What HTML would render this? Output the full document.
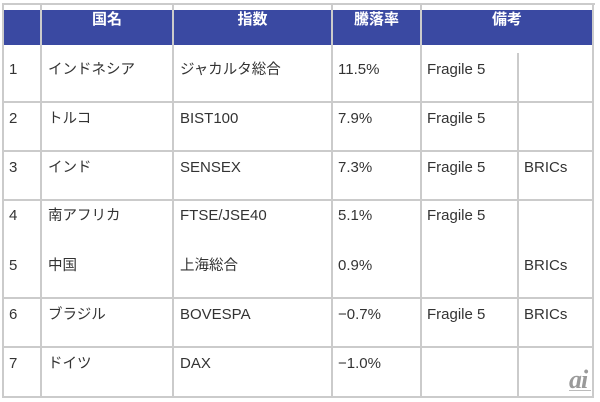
<!DOCTYPE html>
<html><head><meta charset="utf-8">
<style>
html,body{margin:0;padding:0;background:#fff;}
body{width:600px;height:402px;position:relative;overflow:hidden;font-family:"Liberation Sans","Noto Sans CJK JP",sans-serif;}
.hd{position:absolute;left:3px;top:10px;width:590px;height:35px;background:#3a49a2;}
.v{position:absolute;width:2px;background:#cbcbcb;}
.h{position:absolute;height:2px;background:#cbcbcb;}
.t{position:absolute;font-size:15px;line-height:20px;color:#333;white-space:nowrap;}
.j{font-size:14.5px;}
.th{position:absolute;font-size:15px;line-height:20px;color:#fff;font-weight:bold;text-align:center;top:10px;}
.ai{position:absolute;left:569px;top:369px;font-family:"Liberation Serif",serif;font-style:italic;font-weight:bold;font-size:26px;color:#9a9a9a;line-height:22px;letter-spacing:-1px;}
.ais{position:absolute;left:569px;top:390px;width:22px;height:1px;background:#bbb;}
</style></head><body>
<div class="hd"></div>
<!-- borders -->
<div class="h" style="left:3px;top:3px;width:592px;"></div>
<div class="v" style="left:2px;top:3px;height:395px;"></div>
<div class="v" style="left:40px;top:3px;height:395px;"></div>
<div class="v" style="left:172px;top:3px;height:395px;"></div>
<div class="v" style="left:331px;top:3px;height:395px;"></div>
<div class="v" style="left:420px;top:3px;height:395px;"></div>
<div class="v" style="left:517px;top:53px;height:345px;"></div>
<div class="v" style="left:592px;top:3px;height:395px;"></div>
<div class="h" style="left:3px;top:101px;width:591px;"></div>
<div class="h" style="left:3px;top:150px;width:591px;"></div>
<div class="h" style="left:3px;top:199px;width:591px;"></div>
<div class="h" style="left:3px;top:297px;width:591px;"></div>
<div class="h" style="left:3px;top:346px;width:591px;"></div>
<div class="h" style="left:3px;top:396px;width:591px;"></div>
<!-- header -->
<div class="th" style="left:42px;width:130px;">国名</div>
<div class="th" style="left:174px;width:157px;">指数</div>
<div class="th" style="left:333px;width:87px;">騰落率</div>
<div class="th" style="left:422px;width:170px;">備考</div>
<!-- row1 -->
<div class="t" style="left:9px;top:60px;">1</div>
<div class="t j" style="left:48px;top:60px;">インドネシア</div>
<div class="t j" style="left:180px;top:60px;">ジャカルタ総合</div>
<div class="t" style="left:338px;top:60px;">11.5%</div>
<div class="t" style="left:427px;top:60px;">Fragile 5</div>
<!-- row2 -->
<div class="t" style="left:9px;top:109px;">2</div>
<div class="t j" style="left:48px;top:109px;">トルコ</div>
<div class="t" style="left:180px;top:109px;">BIST100</div>
<div class="t" style="left:338px;top:109px;">7.9%</div>
<div class="t" style="left:427px;top:109px;">Fragile 5</div>
<!-- row3 -->
<div class="t" style="left:9px;top:158px;">3</div>
<div class="t j" style="left:48px;top:158px;">インド</div>
<div class="t" style="left:180px;top:158px;">SENSEX</div>
<div class="t" style="left:338px;top:158px;">7.3%</div>
<div class="t" style="left:427px;top:158px;">Fragile 5</div>
<div class="t" style="left:524px;top:158px;">BRICs</div>
<!-- row4 -->
<div class="t" style="left:9px;top:206px;">4</div>
<div class="t j" style="left:48px;top:206px;">南アフリカ</div>
<div class="t" style="left:180px;top:206px;">FTSE/JSE40</div>
<div class="t" style="left:338px;top:206px;">5.1%</div>
<div class="t" style="left:427px;top:206px;">Fragile 5</div>
<!-- row5 -->
<div class="t" style="left:9px;top:256px;">5</div>
<div class="t j" style="left:48px;top:256px;">中国</div>
<div class="t j" style="left:180px;top:256px;">上海総合</div>
<div class="t" style="left:338px;top:256px;">0.9%</div>
<div class="t" style="left:524px;top:256px;">BRICs</div>
<!-- row6 -->
<div class="t" style="left:9px;top:305px;">6</div>
<div class="t j" style="left:48px;top:305px;">ブラジル</div>
<div class="t" style="left:180px;top:305px;">BOVESPA</div>
<div class="t" style="left:338px;top:305px;">−0.7%</div>
<div class="t" style="left:427px;top:305px;">Fragile 5</div>
<div class="t" style="left:524px;top:305px;">BRICs</div>
<!-- row7 -->
<div class="t" style="left:9px;top:354px;">7</div>
<div class="t j" style="left:48px;top:354px;">ドイツ</div>
<div class="t" style="left:180px;top:354px;">DAX</div>
<div class="t" style="left:338px;top:354px;">−1.0%</div>
<div class="ai">ai</div>
<div class="ais"></div>
</body></html>
